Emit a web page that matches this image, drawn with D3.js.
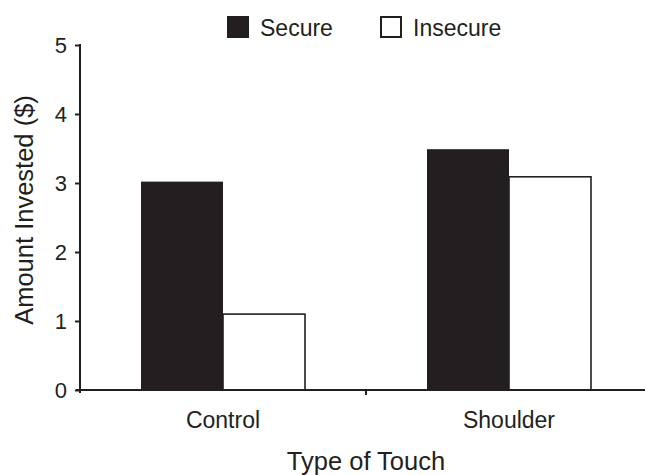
<!DOCTYPE html>
<html>
<head>
<meta charset="utf-8">
<script src="https://cdn.jsdelivr.net/npm/d3@7"></script>
<style>
  html, body { margin: 0; padding: 0; background: #fff; }
  svg { display: block; font-family: "Liberation Sans", Arial, Helvetica, sans-serif; }
</style>
</head>
<body>
<svg id="chart" width="645" height="475"></svg>
<script>
const categories = ["Control", "Shoulder"];
const seriesNames = ["Secure", "Insecure"];
const secureValues = [3.02, 3.49];
const insecureValues = [1.10, 3.09];
const yTicks = [0, 1, 2, 3, 4, 5];

const ink = "#231f20";
const svg = d3.select("#chart");

const x0 = d3.scaleBand().domain(categories).range([80, 652]).paddingInner(0).paddingOuter(0);
const x1 = d3.scaleBand().domain(seriesNames).range([0, x0.bandwidth()]).paddingInner(0).paddingOuter(0.744);
const y = d3.scaleLinear().domain([0, 5]).range([390, 45]);

const data = categories.map((c, i) => ({
  cat: c,
  vals: [
    { s: "Secure", v: secureValues[i] },
    { s: "Insecure", v: insecureValues[i] }
  ]
}));

// bars
const g = svg.append("g");
const groups = g.selectAll("g.grp").data(data).join("g")
  .attr("transform", d => `translate(${x0(d.cat)},0)`);
groups.selectAll("rect").data(d => d.vals).join("rect")
  .attr("x", d => x1(d.s))
  .attr("y", d => y(d.v))
  .attr("width", x1.bandwidth())
  .attr("height", d => y(0) - y(d.v))
  .attr("fill", d => d.s === "Secure" ? ink : "#ffffff")
  .attr("stroke", ink)
  .attr("stroke-width", d => d.s === "Secure" ? 0 : 1.6);

// y axis
const yAxis = svg.append("g")
  .attr("transform", "translate(80,0)")
  .call(d3.axisLeft(y).tickValues(yTicks).tickFormat(d3.format("d")).tickSize(5).tickSizeOuter(0).tickPadding(8));
yAxis.select(".domain").remove();
yAxis.selectAll(".tick line").attr("stroke", ink).attr("stroke-width", 2);
yAxis.selectAll(".tick text").attr("fill", ink).style("font-size", "22px").attr("dy", "0.36em");
svg.append("line")
  .attr("x1", 80).attr("x2", 80)
  .attr("y1", y(5) - 1).attr("y2", y(0) + 3)
  .attr("stroke", ink).attr("stroke-width", 2);

// x axis
svg.append("line")
  .attr("x1", 76).attr("x2", 645)
  .attr("y1", y(0)).attr("y2", y(0))
  .attr("stroke", ink).attr("stroke-width", 2);
// divider tick between groups
svg.append("line")
  .attr("x1", x0("Shoulder")).attr("x2", x0("Shoulder"))
  .attr("y1", y(0)).attr("y2", y(0) + 5)
  .attr("stroke", ink).attr("stroke-width", 2);

// category labels
svg.selectAll("text.cat").data(categories).join("text")
  .attr("class", "cat")
  .attr("x", d => x0(d) + x0.bandwidth() / 2)
  .attr("y", 428)
  .attr("text-anchor", "middle")
  .attr("fill", ink)
  .style("font-size", "23px")
  .text(d => d);

// axis titles
svg.append("text")
  .attr("x", 366).attr("y", 470)
  .attr("text-anchor", "middle")
  .attr("fill", ink)
  .style("font-size", "25.5px")
  .text("Type of Touch");

svg.append("text")
  .attr("transform", "translate(33,210) rotate(-90)")
  .attr("text-anchor", "middle")
  .attr("fill", ink)
  .style("font-size", "25.5px")
  .text("Amount Invested ($)");

// legend
const legend = [
  { name: "Secure", sx: 227, tx: 260, fill: ink },
  { name: "Insecure", sx: 380, tx: 413, fill: "#ffffff" }
];
legend.forEach(l => {
  svg.append("rect")
    .attr("x", l.sx + (l.fill === ink ? 0 : 1)).attr("y", 16 + (l.fill === ink ? 0 : 1))
    .attr("width", l.fill === ink ? 22 : 20).attr("height", l.fill === ink ? 22 : 20)
    .attr("fill", l.fill)
    .attr("stroke", ink)
    .attr("stroke-width", l.fill === ink ? 0 : 2);
  svg.append("text")
    .attr("x", l.tx).attr("y", 36)
    .attr("fill", ink)
    .style("font-size", "23px")
    .text(l.name);
});
</script>
</body>
</html>
